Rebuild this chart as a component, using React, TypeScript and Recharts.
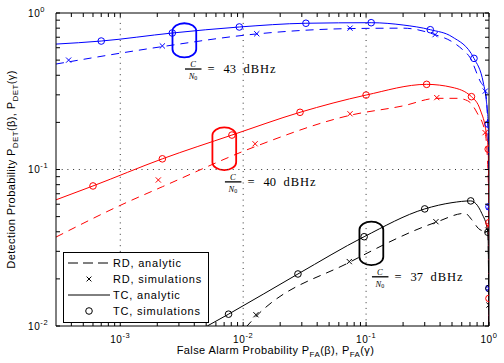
import React from 'react';
import { ComposedChart, Line, Scatter, XAxis, YAxis, ReferenceLine, ReferenceArea, Legend } from 'recharts';

const W = 504;
const H = 363;
const SANS = 'Liberation Sans, Arial, Helvetica, sans-serif';
const SERIF = 'Liberation Serif, Times New Roman, serif';

// ---- ticks ----
const xMajor = [1e-3, 1e-2, 1e-1, 1];
const xMajorExp = ['-3', '-2', '-1', '0'];
const xMinor = [4e-4, 5e-4, 6e-4, 7e-4, 8e-4, 9e-4, 2e-3, 3e-3, 4e-3, 5e-3, 6e-3, 7e-3, 8e-3, 9e-3,
  2e-2, 3e-2, 4e-2, 5e-2, 6e-2, 7e-2, 8e-2, 9e-2, 0.2, 0.3, 0.4, 0.5, 0.6, 0.7, 0.8, 0.9];
const yMajor = [1e-2, 1e-1, 1];
const yMajorExp = ['-2', '-1', '0'];
const yMinor = [0.02, 0.03, 0.04, 0.05, 0.06, 0.07, 0.08, 0.09, 0.2, 0.3, 0.4, 0.5, 0.6, 0.7, 0.8, 0.9];
const xGrid = [1e-3, 1e-2, 1e-1];
const yGrid = [1e-1];

// ---- series ----
const colors = ['#0000ff', '#ff0000', '#000000'];
const cn0 = ['43', '40', '37'];

// TC analytic (solid)
const tc43X = [3e-4, 7e-4, 2.65e-3, 9.3e-3, 0.0324, 0.11, 0.2, 0.333, 0.5, 0.755, 0.9, 0.95, 0.985, 0.999, 0.99999];
const tc43Y = [0.633, 0.662, 0.745, 0.814, 0.86, 0.867, 0.838, 0.782, 0.705, 0.513, 0.357, 0.278, 0.195, 0.03, 0.0005];
const tc40X = [3e-4, 6e-4, 2.2e-3, 8.1e-3, 0.029, 0.1, 0.311, 0.5, 0.72, 0.85, 0.95, 0.985, 0.999, 0.99999];
const tc40Y = [0.064, 0.0785, 0.117, 0.166, 0.232, 0.299, 0.35, 0.335, 0.292, 0.24, 0.171, 0.135, 0.02, 0.0005];
const tc37X = [5.1e-3, 7.6e-3, 0.0279, 0.0964, 0.3, 0.5, 0.71, 0.873, 0.98, 0.999, 0.99999];
const tc37Y = [0.01, 0.0119, 0.0215, 0.0372, 0.056, 0.0614, 0.063, 0.0525, 0.0397, 0.008, 0.0005];

// RD analytic (dashed)
const rd43X = [3e-4, 2.2e-3, 0.0129, 0.074, 0.2, 0.364, 0.5, 0.615, 0.7, 0.845, 0.933, 0.97, 0.99, 0.999, 0.99999];
const rd43Y = [0.472, 0.61, 0.735, 0.795, 0.8, 0.727, 0.656, 0.58, 0.52, 0.368, 0.317, 0.22, 0.12, 0.01, 0.0005];
const rd40X = [3e-4, 1e-3, 2.2e-3, 0.0125, 0.074, 0.2, 0.376, 0.55, 0.67, 0.8, 0.93, 0.99, 0.999, 0.99999];
const rd40Y = [0.037, 0.059, 0.0776, 0.14, 0.222, 0.255, 0.285, 0.285, 0.275, 0.23, 0.172, 0.08, 0.008, 0.0005];
const rd37X = [0.0105, 0.0127, 0.073, 0.37, 0.64, 0.72, 0.82, 0.98, 0.995, 0.9999, 0.99999];
const rd37Y = [0.0098, 0.0115, 0.0255, 0.046, 0.0525, 0.048, 0.042, 0.039, 0.015, 0.002, 0.0005];

// TC simulations (circles)
const tcSim43X = [7e-4, 2.65e-3, 9.3e-3, 0.0324, 0.11, 0.333, 0.755, 0.985, 0.999, 0.999];
const tcSim43Y = [0.662, 0.745, 0.814, 0.86, 0.867, 0.782, 0.513, 0.195, 0.0578, 0.0174];
const tcSim40X = [6e-4, 2.2e-3, 8.1e-3, 0.029, 0.1, 0.311, 0.72, 0.985, 0.999, 0.999];
const tcSim40Y = [0.0785, 0.117, 0.166, 0.232, 0.299, 0.35, 0.292, 0.135, 0.0457, 0.015];
const tcSim37X = [7.6e-3, 0.0279, 0.0964, 0.3, 0.71, 0.98, 0.999];
const tcSim37Y = [0.0119, 0.0215, 0.0372, 0.056, 0.063, 0.0397, 0.0174];

// RD simulations (crosses)
const rdSim43X = [3.8e-4, 2.2e-3, 0.0129, 0.074, 0.364, 0.933, 0.999, 0.999];
const rdSim43Y = [0.5, 0.616, 0.737, 0.8, 0.727, 0.317, 0.0578, 0.0174];
const rdSim40X = [2.04e-3, 0.0125, 0.074, 0.376, 0.93, 0.999];
const rdSim40Y = [0.0857, 0.146, 0.227, 0.288, 0.172, 0.044];
const rdSim37X = [0.0127, 0.073, 0.37, 0.98, 0.999];
const rdSim37Y = [0.0118, 0.0258, 0.0464, 0.041, 0.0136];

// annotation ellipses (data space)
const pillX1 = [2.66e-3, 5.62e-3, 0.0883];
const pillX2 = [4.15e-3, 8.77e-3, 0.138];
const pillY1 = [0.521, 0.099, 0.0245];
const pillY2 = [0.86, 0.186, 0.0464];

const legendLabels = ['RD, analytic', 'RD, simulations', 'TC, analytic', 'TC, simulations'];

const zip = (xs: number[], ys: number[]) => xs.map((x, i) => ({ x, y: ys[i] }));

const tcCurves = [zip(tc43X, tc43Y), zip(tc40X, tc40Y), zip(tc37X, tc37Y)];
const rdCurves = [zip(rd43X, rd43Y), zip(rd40X, rd40Y), zip(rd37X, rd37Y)];
const tcSims = [zip(tcSim43X, tcSim43Y), zip(tcSim40X, tcSim40Y), zip(tcSim37X, tcSim37Y)];
const rdSims = [zip(rdSim43X, rdSim43Y), zip(rdSim40X, rdSim40Y), zip(rdSim37X, rdSim37Y)];

const xTicks = [...xMajor, ...xMinor];
const yTicks = [...yMajor, ...yMinor];

const majorIndex = (arr: number[], v: number) => arr.findIndex((m) => Math.abs(m - v) / m < 1e-6);

const TICK = 4;

const BottomTick = (p: any) => {
  const { x, y, payload } = p;
  const i = majorIndex(xMajor, payload.value);
  return (
    <g>
      <line x1={x} x2={x} y1={y} y2={y - TICK} stroke="#000" strokeWidth={1} />
      {i >= 0 && (
        <text x={x} y={y + 16.5} textAnchor="middle" fontSize={10} fontFamily={SANS} fill="#000" letterSpacing={0.6}>
          10<tspan dy={-5} fontSize={7.5}>{xMajorExp[i]}</tspan>
        </text>
      )}
    </g>
  );
};

const TopTick = (p: any) => {
  const { x, y } = p;
  return <line x1={x} x2={x} y1={y} y2={y + TICK} stroke="#000" strokeWidth={1} />;
};

const LeftTick = (p: any) => {
  const { x, y, payload } = p;
  const i = majorIndex(yMajor, payload.value);
  return (
    <g>
      <line x1={x} x2={x + TICK} y1={y} y2={y} stroke="#000" strokeWidth={1} />
      {i >= 0 && (
        <text x={x - 28} y={y + 3.7} textAnchor="start" fontSize={10} fontFamily={SANS} fill="#000" letterSpacing={0.6}>
          10<tspan dy={-5} fontSize={7.5}>{yMajorExp[i]}</tspan>
        </text>
      )}
    </g>
  );
};

const RightTick = (p: any) => {
  const { x, y } = p;
  return <line x1={x} x2={x - TICK} y1={y} y2={y} stroke="#000" strokeWidth={1} />;
};

const circleShape = (color: string) => (p: any) => (
  <circle cx={p.cx} cy={p.cy} r={3.3} fill="none" stroke={color} strokeWidth={1} />
);
const crossShape = (color: string) => (p: any) => (
  <path d={`M${p.cx - 2.6},${p.cy - 2.6}L${p.cx + 2.6},${p.cy + 2.6}M${p.cx - 2.6},${p.cy + 2.6}L${p.cx + 2.6},${p.cy - 2.6}`} stroke={color} strokeWidth={1} fill="none" />
);

const Pill = (props: any) => {
  const { x, y, width, height, color, value } = props;
  const bx = x;
  const by = y + height;
  return (
    <g>
      <rect x={x} y={y} width={width} height={height} rx={width / 2} ry={8} fill="none" stroke={color} strokeWidth={1.8} />
      <text x={bx + 20.5} y={by + 9.5} textAnchor="middle" fontSize={8.5} fontStyle="italic" fontFamily={SERIF} fill="#000">C</text>
      <line x1={bx + 12.5} x2={bx + 29} y1={by + 11.7} y2={by + 11.7} stroke="#000" strokeWidth={1.3} />
      <text x={bx + 20.5} y={by + 21.5} textAnchor="middle" fontSize={8.5} fontStyle="italic" fontFamily={SERIF} fill="#000">
        N<tspan fontStyle="normal" fontSize={6} dy={1.5}>0</tspan>
      </text>
      <text x={bx + 35} y={by + 15.5} fontSize={12.5} fontFamily={SERIF} fill="#000">=</text>
      <text x={bx + 51} y={by + 15.5} fontSize={12.5} fontFamily={SERIF} fill="#000">{value}</text>
      <text x={bx + 71} y={by + 15.5} fontSize={12.5} fontFamily={SERIF} fill="#000" letterSpacing={1}>dBHz</text>
    </g>
  );
};

const LegendBox = () => {
  const rows = [11, 27, 43, 59];
  return (
    <svg width={147} height={72} style={{ display: 'block' }}>
      <rect x={0.5} y={0.5} width={145} height={70} fill="#fff" stroke="#000" strokeWidth={1} />
      <line x1={5} x2={47} y1={rows[0]} y2={rows[0]} stroke="#000" strokeDasharray="10 5" />
      <path d={`M${26 - 2.4},${rows[1] - 2.4}L${26 + 2.4},${rows[1] + 2.4}M${26 - 2.4},${rows[1] + 2.4}L${26 + 2.4},${rows[1] - 2.4}`} stroke="#000" />
      <line x1={5} x2={47} y1={rows[2]} y2={rows[2]} stroke="#000" />
      <circle cx={26} cy={rows[3]} r={3.3} fill="none" stroke="#000" />
      {legendLabels.map((t, i) => (
        <text key={t} x={50} y={rows[i] + 4} fontSize={11} fontFamily={SANS} fill="#000" letterSpacing={0.8}>{t}</text>
      ))}
    </svg>
  );
};

const XLabel = (p: any) => {
  const vb = p.viewBox;
  const cx = vb.x + vb.width / 2 + 3;
  const cy = vb.y + 28;
  return (
    <text x={cx} y={cy} textAnchor="middle" fontSize={11} fontFamily={SANS} fill="#000" letterSpacing={0.4}>
      False Alarm Probability P<tspan dy={3} fontSize={8}>FA</tspan><tspan dy={-3}>(β), P</tspan><tspan dy={3} fontSize={8}>FA</tspan><tspan dy={-3}>(γ)</tspan>
    </text>
  );
};

const YLabel = (p: any) => {
  const vb = p.viewBox;
  const cx = vb.x + 15;
  const cy = vb.y + vb.height / 2;
  return (
    <text x={cx} y={cy} transform={`rotate(-90 ${cx} ${cy})`} textAnchor="middle" fontSize={11} fontFamily={SANS} fill="#000" letterSpacing={0.4}>
      Detection Probability P<tspan dy={3} fontSize={8}>DET</tspan><tspan dy={-3}>(β), P</tspan><tspan dy={3} fontSize={8}>DET</tspan><tspan dy={-3}>(γ)</tspan>
    </text>
  );
};

export default function App() {
  return (
    <div style={{ position: 'absolute', left: 0, top: 0, width: W, height: H, background: '#fff' }}>
      <ComposedChart width={W} height={H} margin={{ top: 12, right: 14, bottom: 0, left: 0 }}>
        <XAxis type="number" dataKey="x" scale="log" domain={[3e-4, 1]} allowDataOverflow ticks={xTicks} interval={0}
          tick={BottomTick} tickLine={false} tickSize={0} tickMargin={0} height={37} axisLine={{ stroke: '#000' }}
          label={{ content: XLabel } as any} />
        <XAxis xAxisId="top" orientation="top" type="number" dataKey="x" scale="log" domain={[3e-4, 1]} allowDataOverflow ticks={xTicks} interval={0}
          tick={TopTick} tickLine={false} tickSize={0} tickMargin={0} height={1} axisLine={{ stroke: '#000' }} />
        <YAxis type="number" dataKey="y" scale="log" domain={[0.01, 1]} allowDataOverflow ticks={yTicks} interval={0}
          tick={LeftTick} tickLine={false} tickSize={0} tickMargin={0} width={56} axisLine={{ stroke: '#000' }}
          label={{ content: YLabel } as any} />
        <YAxis yAxisId="right" orientation="right" type="number" dataKey="y" scale="log" domain={[0.01, 1]} allowDataOverflow ticks={yTicks} interval={0}
          tick={RightTick} tickLine={false} tickSize={0} tickMargin={0} width={1} axisLine={{ stroke: '#000' }} />

        {xGrid.map((v) => (
          <ReferenceLine key={'gx' + v} x={v} stroke="#333" strokeDasharray="1 4.7" strokeWidth={1} />
        ))}
        {yGrid.map((v) => (
          <ReferenceLine key={'gy' + v} y={v} stroke="#333" strokeDasharray="1 4.7" strokeWidth={1} />
        ))}

        {tcCurves.map((d, i) => (
          <Line key={'tc' + i} data={d} dataKey="y" type="monotone" stroke={colors[i]} strokeWidth={1} dot={false} isAnimationActive={false} />
        ))}
        {rdCurves.map((d, i) => (
          <Line key={'rd' + i} data={d} dataKey="y" type="monotone" stroke={colors[i]} strokeWidth={1} strokeDasharray="8 6" dot={false} isAnimationActive={false} />
        ))}
        {tcSims.map((d, i) => (
          <Scatter key={'tcs' + i} data={d} dataKey="y" shape={circleShape(colors[i])} isAnimationActive={false} />
        ))}
        {rdSims.map((d, i) => (
          <Scatter key={'rds' + i} data={d} dataKey="y" shape={crossShape(colors[i])} isAnimationActive={false} />
        ))}

        {cn0.map((v, i) => (
          <ReferenceArea key={'pill' + i} x1={pillX1[i]} x2={pillX2[i]} y1={pillY1[i]} y2={pillY2[i]}
            shape={(p: any) => <Pill {...p} color={colors[i]} value={v} />} />
        ))}

        <Legend layout="vertical" align="center" verticalAlign="middle" content={() => <LegendBox />}
          wrapperStyle={{ left: 63, top: 252, width: 147, height: 72 }} />
      </ComposedChart>
    </div>
  );
}
